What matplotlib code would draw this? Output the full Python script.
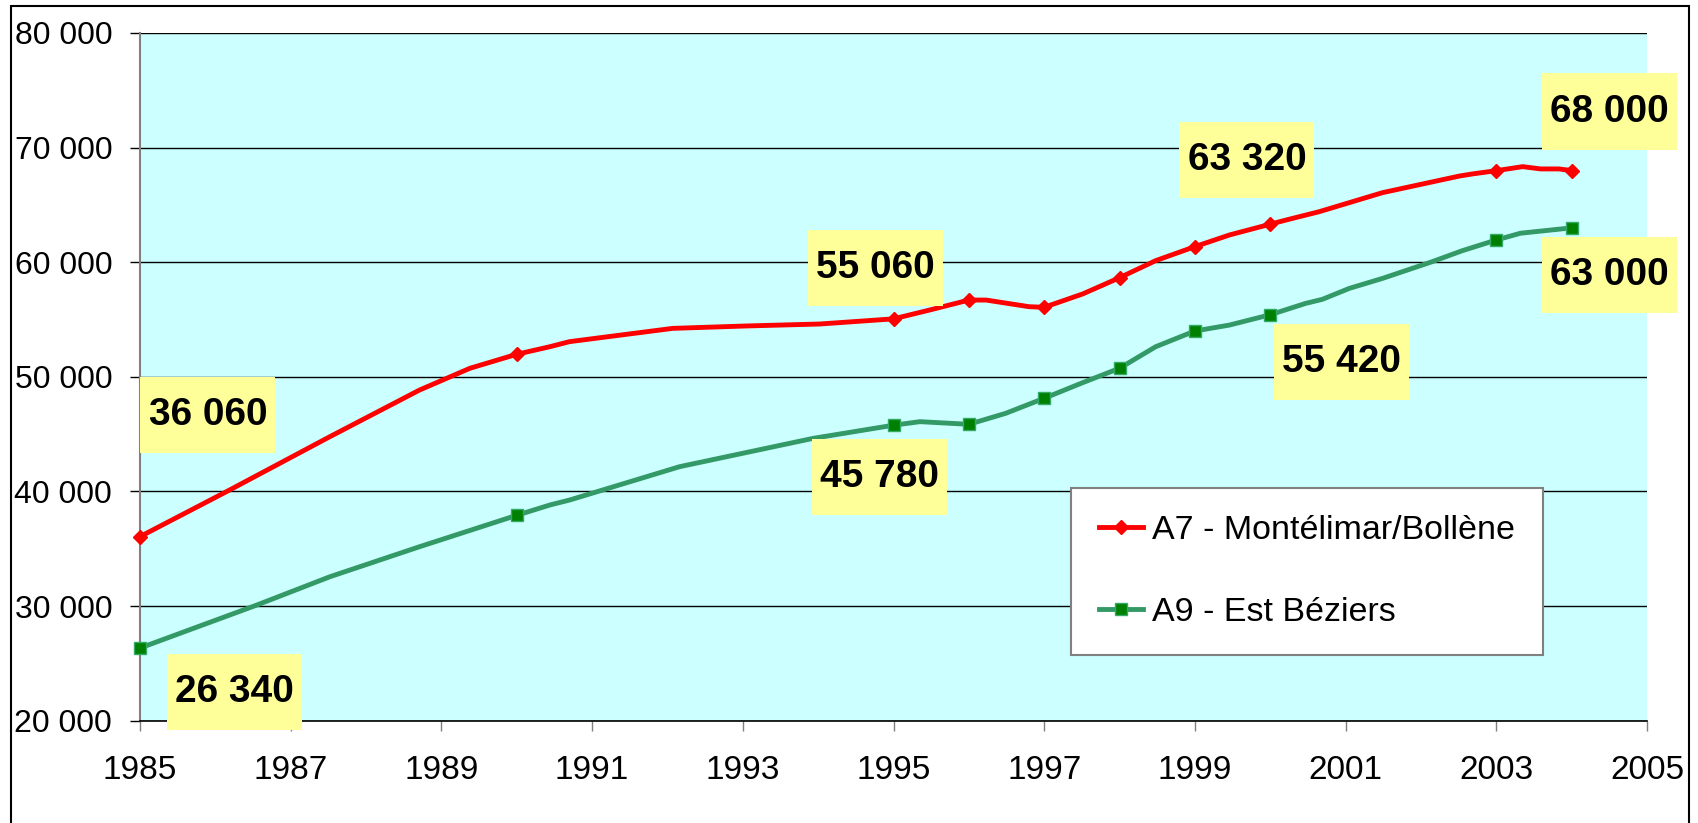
import matplotlib
matplotlib.use("Agg")
import matplotlib.pyplot as plt
from matplotlib.patches import Rectangle
from matplotlib.ticker import FuncFormatter, MultipleLocator

plt.rcParams['font.family'] = ['Liberation Sans', 'DejaVu Sans']

# traffic, A7 - Montélimar/Bollène (line, markers at survey years)
a7_years = [1985, 1986.19, 1987.52, 1988.71, 1989.38, 1990, 1990.44, 1990.7, 1992.07,
            1993.05, 1994.02, 1995, 1995.48, 1996, 1996.23, 1996.8, 1997, 1997.51, 1998,
            1998.48, 1999, 1999.46, 2000, 2000.25, 2000.65, 2001.49, 2002.51, 2002.68,
            2003, 2003.35, 2003.59, 2003.83, 2004]
a7_values = [36060, 40130, 44780, 48850, 50750, 51970, 52630, 53070, 54230,
             54440, 54610, 55060, 55830, 56700, 56700, 56120, 56070, 57230, 58650,
             60140, 61360, 62380, 63320, 63750, 64410, 66070, 67520, 67700,
             67990, 68340, 68140, 68140, 68000]

# traffic, A9 - Est Béziers
a9_years = [1985, 1986.55, 1987.52, 1988.71, 1990, 1990.44, 1990.7, 1992.16, 1993.93,
            1995, 1995.35, 1996, 1996.49, 1997, 1997.51, 1998, 1998.48, 1999, 1999.46,
            2000, 2000.47, 2000.69, 2001.05, 2001.49, 2002.15, 2002.55, 2003, 2003.32, 2004]
a9_values = [26340, 30090, 32560, 35180, 37920, 38820, 39250, 42160, 44630,
             45780, 46090, 45860, 46820, 48130, 49490, 50750, 52630, 54000, 54520,
             55420, 56410, 56760, 57720, 58590, 60050, 61010, 61940, 62530, 63000]

marker_years = [1985, 1990, 1995, 1996, 1997, 1998, 1999, 2000, 2003, 2004]
x_ticks = list(range(1985, 2006, 2))

labels_a7 = ["36 060", "55 060", "63 320", "68 000"]
labels_a9 = ["26 340", "45 780", "55 420", "63 000"]
# label box centres (year, value)
label_pos_a7 = [(1985.90, 46670), (1994.76, 59500), (1999.69, 68920), (2004.50, 73150)]
label_pos_a9 = [(1986.25, 22500), (1994.81, 41260), (2000.95, 51300), (2004.50, 58890)]


def fmt_thousands(v, pos):
    return f"{int(v):,}".replace(",", " ")


def draw_label(ax, text, x, y):
    w, h = 1.79, 6700
    ax.add_patch(Rectangle((x - w / 2, y - h / 2), w, h, facecolor='#FFFF99',
                           edgecolor='none', zorder=5, clip_on=False))
    ax.text(x, y, text, ha='center', va='center', fontsize=28, fontweight='bold',
            color='black', zorder=6, clip_on=False)


fig = plt.figure(figsize=(16.99, 8.23), dpi=100)
fig.patch.set_facecolor('white')
fig.add_artist(Rectangle((11 / 1699, -0.05), 1678 / 1699, 1.05 - 6 / 823,
                         transform=fig.transFigure, fill=False, edgecolor='black', lw=1.5))

ax = fig.add_axes([140 / 1699, 1 - 720.7 / 823, 1507 / 1699, 687.7 / 823])
ax.set_facecolor('#CCFFFF')

a7_marks = [a7_years.index(y) for y in marker_years]
a9_marks = [a9_years.index(y) for y in marker_years]

ax.plot(a7_years, a7_values, color='#FF0000', lw=3.5, marker='D', markersize=7,
        markevery=a7_marks, markerfacecolor='#FF0000', markeredgecolor='#FF0000',
        label='A7 - Montélimar/Bollène', zorder=4, clip_on=False)
ax.plot(a9_years, a9_values, color='#339966', lw=3.5, marker='s', markersize=8,
        markevery=a9_marks, markerfacecolor='#008000', markeredgecolor='#33AA66',
        label='A9 - Est Béziers', zorder=4, clip_on=False)

for t, (x, y) in zip(labels_a7, label_pos_a7):
    draw_label(ax, t, x, y)
for t, (x, y) in zip(labels_a9, label_pos_a9):
    draw_label(ax, t, x, y)

ax.set_xlim(1985, 2005)
ax.set_ylim(20000, 80000)
ax.set_xticks(x_ticks)
ax.yaxis.set_major_locator(MultipleLocator(10000))
ax.yaxis.set_major_formatter(FuncFormatter(fmt_thousands))
ax.grid(axis='y', color='black', lw=1)
ax.set_axisbelow(True)

for s in ['top', 'right']:
    ax.spines[s].set_visible(False)
ax.spines['left'].set_color('#808080')
ax.spines['left'].set_linewidth(1.5)
ax.spines['bottom'].set_color('black')
ax.spines['bottom'].set_linewidth(1.2)
ax.tick_params(axis='y', length=7, width=1, pad=13, labelsize=23)
ax.tick_params(axis='x', length=7, width=1, pad=18, labelsize=24, color='#808080')

leg = ax.legend(loc='upper left', bbox_to_anchor=(0.618, 0.3384), borderaxespad=0,
                fontsize=24.5, frameon=True, fancybox=False, framealpha=1,
                handlelength=1.32, handletextpad=0.26, labelspacing=1.5, borderpad=0.8)
leg.get_frame().set_edgecolor('#808080')
leg.get_frame().set_linewidth(1.5)
leg.set_zorder(7)

fig.savefig('out.png', dpi=100)
